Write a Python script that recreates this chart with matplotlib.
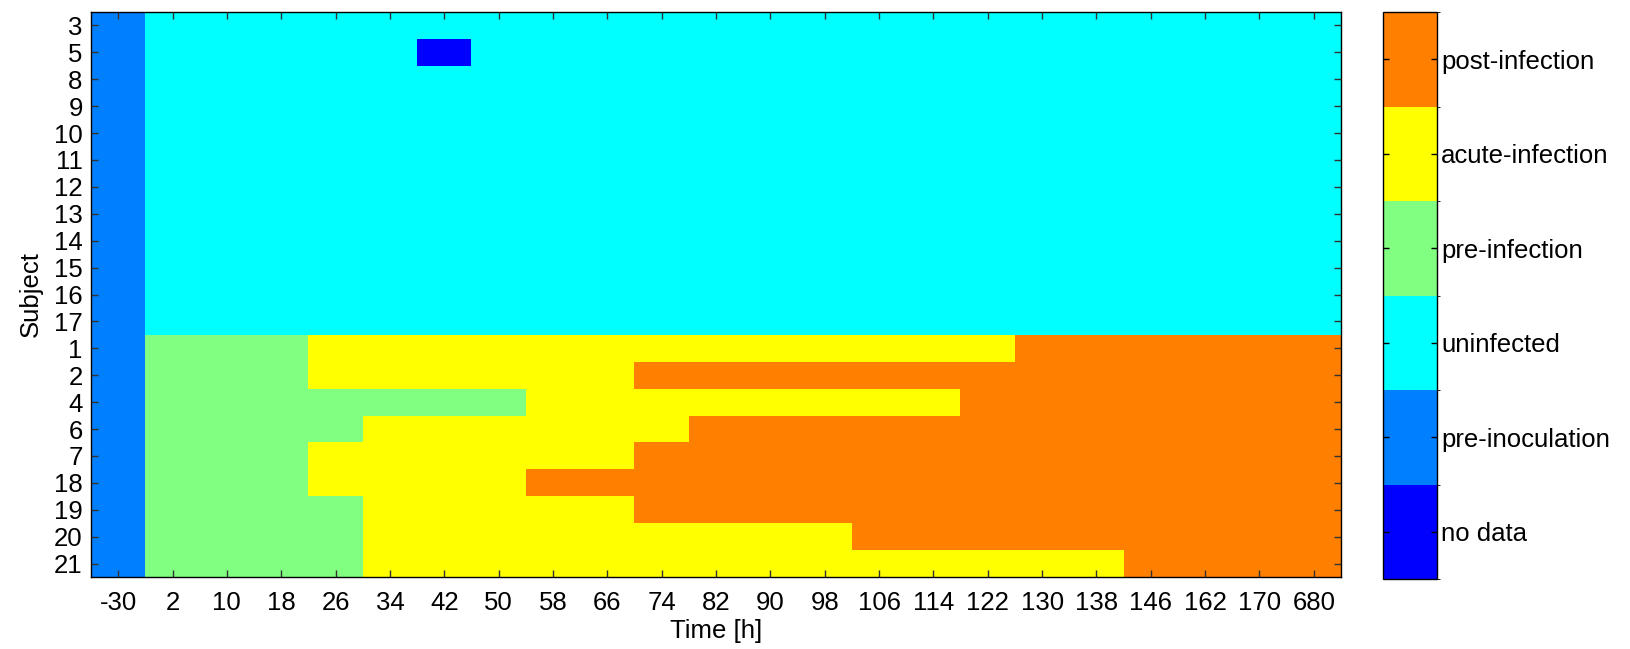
import matplotlib
matplotlib.use("Agg")
import matplotlib.pyplot as plt
from matplotlib.colors import ListedColormap, BoundaryNorm
import numpy as np

plt.rcParams['font.family'] = ['Liberation Sans', 'DejaVu Sans']

# 时间点 (列)
times = ['-30', '2', '10', '18', '26', '34', '42', '50', '58', '66', '74', '82',
         '90', '98', '106', '114', '122', '130', '138', '146', '162', '170', '680']

# 受试者 (行, 从上到下)
subjects = ['3', '5', '8', '9', '10', '11', '12', '13', '14', '15', '16', '17',
            '1', '2', '4', '6', '7', '18', '19', '20', '21']

# 状态类别
states = ['no data', 'pre-inoculation', 'uninfected',
          'pre-infection', 'acute-infection', 'post-infection']
state_colors = ['#0000ff', '#0080ff', '#00ffff', '#80ff80', '#ffff00', '#ff8000']

# 每行每个时间点的状态编号 (0..5, 对应 states)
rows = [
    "1" "2222222222222222222222",                 # 3
    "1" "22222" "0" "2222222222222222",           # 5
    "1" "2222222222222222222222",                 # 8
    "1" "2222222222222222222222",                 # 9
    "1" "2222222222222222222222",                 # 10
    "1" "2222222222222222222222",                 # 11
    "1" "2222222222222222222222",                 # 12
    "1" "2222222222222222222222",                 # 13
    "1" "2222222222222222222222",                 # 14
    "1" "2222222222222222222222",                 # 15
    "1" "2222222222222222222222",                 # 16
    "1" "2222222222222222222222",                 # 17
    "1" "333" "4444444444444" "555555",           # 1
    "1" "333" "444444" "5555555555555",           # 2
    "1" "3333333" "44444444" "5555555",           # 4
    "1" "3333" "444444" "555555555555",           # 6
    "1" "333" "444444" "5555555555555",           # 7
    "1" "333" "4444" "555555555555555",           # 18
    "1" "3333" "44444" "5555555555555",           # 19
    "1" "3333" "444444444" "555555555",           # 20
    "1" "3333" "44444444444444" "5555",           # 21
]

grid = np.array([[int(c) for c in r] for r in rows])

cmap = ListedColormap(state_colors)
norm = BoundaryNorm(np.arange(-0.5, len(states) + 0.5), cmap.N)

W, H = 1631, 649
fig = plt.figure(figsize=(W / 100, H / 100), dpi=100)
ax = fig.add_axes([91 / W, (H - 577) / H, (1341 - 91) / W, (577 - 12) / H])
cax = fig.add_axes([1383 / W, (H - 579) / H, (1437 - 1383) / W, (579 - 12) / H])

ax.imshow(grid, cmap=cmap, norm=norm, aspect='auto', interpolation='nearest')

fs = 18.5
ax.set_xticks(np.arange(len(times)))
ax.set_xticklabels(times)
ax.set_yticks(np.arange(len(subjects)))
ax.set_yticklabels(subjects)
ax.tick_params(direction='in', length=5, width=1, color='#333333',
               top=True, right=True, labelsize=fs)
ax.tick_params(axis='x', pad=10)
ax.tick_params(axis='y', pad=6)
for s in ax.spines.values():
    s.set_linewidth(1)

ax.set_xlabel('Time [h]', fontsize=fs, labelpad=3)
ax.set_ylabel('Subject', fontsize=fs, labelpad=8)

#颜色条
sm = plt.cm.ScalarMappable(cmap=cmap, norm=norm)
cb = fig.colorbar(sm, cax=cax, ticks=np.arange(len(states)))
cb.set_ticklabels(states)
cb.outline.set_linewidth(1)
cax.tick_params(direction='in', length=4, width=1, left=True, right=True,
                labelsize=fs, pad=3)

plt.savefig("out.png", dpi=100)
